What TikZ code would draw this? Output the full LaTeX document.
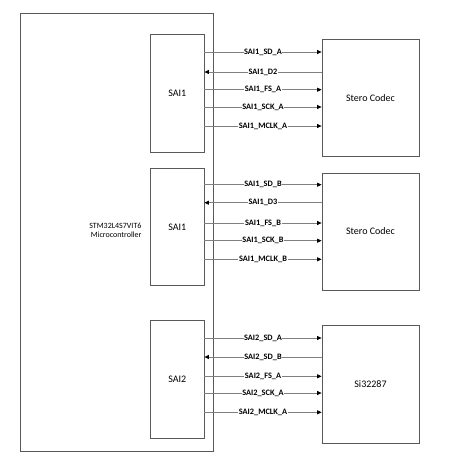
\documentclass[tikz,border=0pt]{standalone}
\usepackage{fontspec}
\setmainfont{Carlito}
\usetikzlibrary{arrows.meta}
\definecolor{boxc}{HTML}{595959}
\definecolor{linec}{HTML}{7F7F7F}
\begin{document}
\begin{tikzpicture}[x=1pt,y=-1pt,
  blk/.style={draw=boxc,line width=0.8pt,inner sep=0pt},
  sig/.style={draw=linec,line width=0.7pt},
  tipr/.style={-{Triangle[length=4.5pt,width=4pt,fill=black,color=black]}},
  tipl/.style={{Triangle[length=4.5pt,width=4pt,fill=black,color=black]}-},
  lab/.style={fill=white,inner sep=0.6pt,font=\fontsize{8.3}{9}\selectfont\bfseries},
  big/.style={font=\fontsize{10}{12}\selectfont}]
\useasboundingbox (0,0) rectangle (449,459);
% MCU
\draw[draw=boxc,line width=0.8pt] (20,13) rectangle (213,451);
\node[align=right,anchor=east,font=\fontsize{8}{9}\selectfont] (mcu) at (145,230) {STM32L4S7VIT6\\Microcontroller};
% SAI blocks
\node[blk,minimum width=53.5pt,minimum height=118pt,big] (s1) at (177.25,93) {SAI1};
\node[blk,minimum width=53.5pt,minimum height=117.7pt,big] (s2) at (177.25,226.85) {SAI1};
\node[blk,minimum width=53.5pt,minimum height=118pt,big] (s3) at (177.25,379) {SAI2};
% devices
\node[blk,minimum width=97pt,minimum height=117.7pt,big] (c1) at (370.5,97.85) {Stero Codec};
\node[blk,minimum width=97pt,minimum height=117pt,big] (c2) at (370.5,231.5) {Stero Codec};
\node[blk,minimum width=97pt,minimum height=118pt,big] (c3) at (370.5,384) {Si32287};
% group 1
\draw[sig,tipr] (s1.east |- 0,52) -- node[lab]{SAI1\_SD\_A} (c1.west |- 0,52);
\draw[sig,tipl] (s1.east |- 0,72) -- node[lab]{SAI1\_D2} (c1.west |- 0,72);
\draw[sig,tipr] (s1.east |- 0,89.7) -- node[lab]{SAI1\_FS\_A} (c1.west |- 0,89.7);
\draw[sig,tipr] (s1.east |- 0,107) -- node[lab]{SAI1\_SCK\_A} (c1.west |- 0,107);
\draw[sig,tipr] (s1.east |- 0,126) -- node[lab]{SAI1\_MCLK\_A} (c1.west |- 0,126);
% group 2
\draw[sig,tipr] (s2.east |- 0,184.7) -- node[lab]{SAI1\_SD\_B} (c2.west |- 0,184.7);
\draw[sig,tipl] (s2.east |- 0,202.7) -- node[lab]{SAI1\_D3} (c2.west |- 0,202.7);
\draw[sig,tipr] (s2.east |- 0,223) -- node[lab]{SAI1\_FS\_B} (c2.west |- 0,223);
\draw[sig,tipr] (s2.east |- 0,240.7) -- node[lab]{SAI1\_SCK\_B} (c2.west |- 0,240.7);
\draw[sig,tipr] (s2.east |- 0,259.3) -- node[lab]{SAI1\_MCLK\_B} (c2.west |- 0,259.3);
% group 3
\draw[sig,tipr] (s3.east |- 0,338) -- node[lab]{SAI2\_SD\_A} (c3.west |- 0,338);
\draw[sig,tipl] (s3.east |- 0,357) -- node[lab]{SAI2\_SD\_B} (c3.west |- 0,357);
\draw[sig,tipr] (s3.east |- 0,376.3) -- node[lab]{SAI2\_FS\_A} (c3.west |- 0,376.3);
\draw[sig,tipr] (s3.east |- 0,393) -- node[lab]{SAI2\_SCK\_A} (c3.west |- 0,393);
\draw[sig,tipr] (s3.east |- 0,412.3) -- node[lab]{SAI2\_MCLK\_A} (c3.west |- 0,412.3);
\end{tikzpicture}
\end{document}
